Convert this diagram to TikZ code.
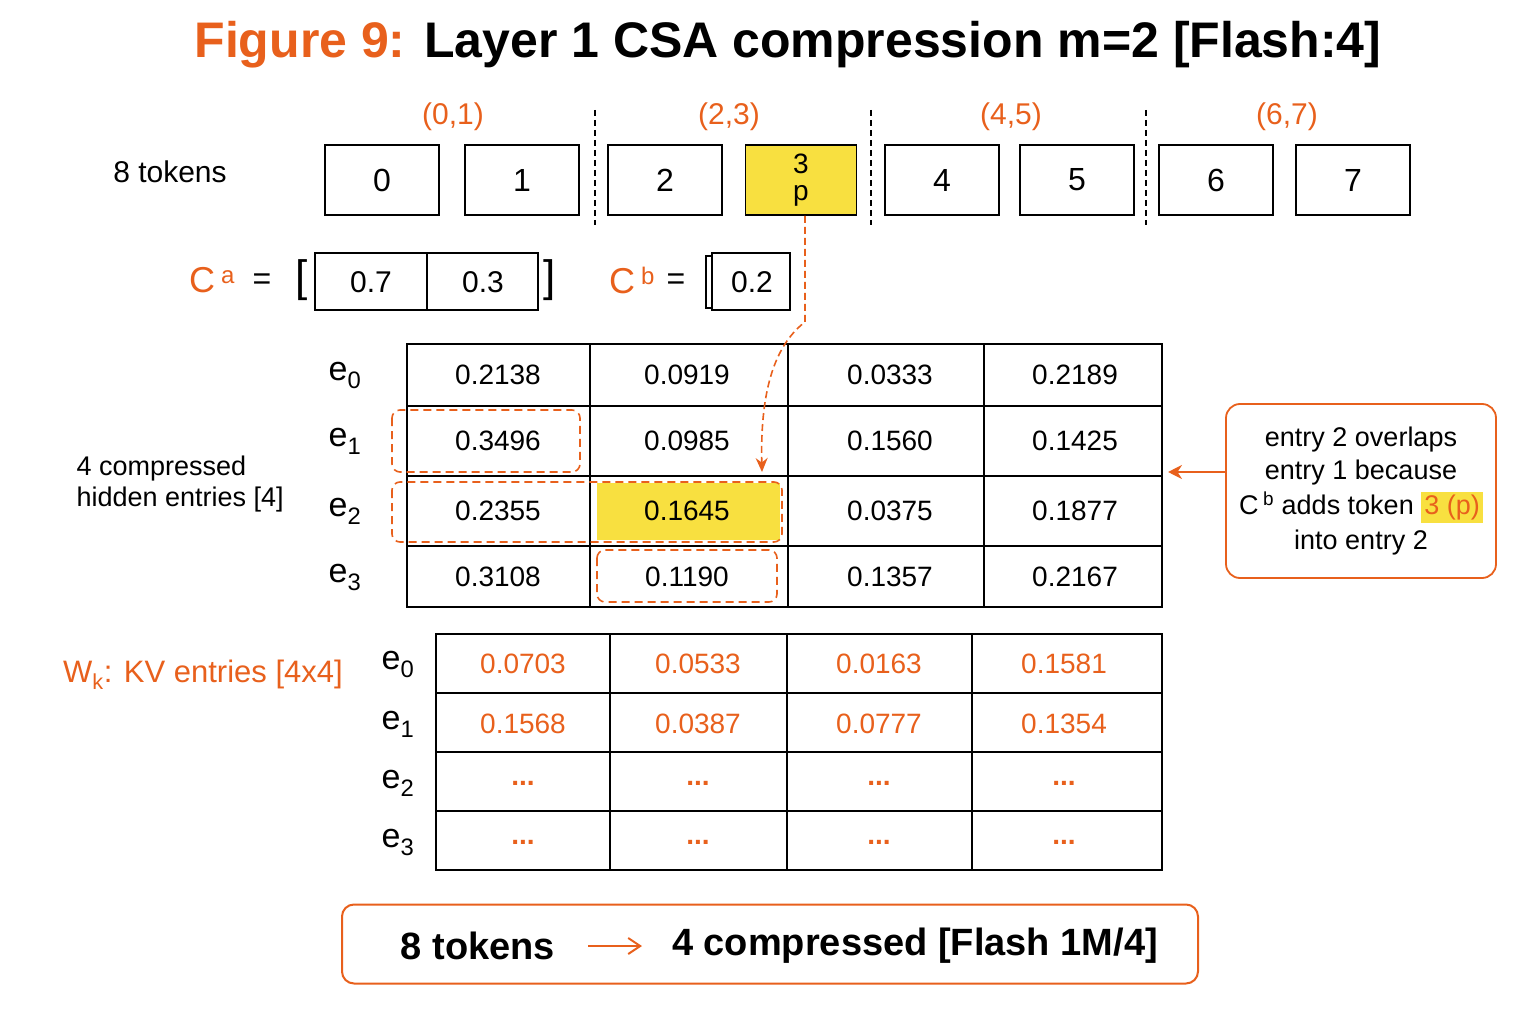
\documentclass[tikz,border=0pt]{standalone}
\usepackage{fontspec}
\setmainfont{Liberation Sans}
\usetikzlibrary{arrows.meta}
\definecolor{org}{HTML}{E8601C}
\definecolor{yel}{HTML}{F8E040}
\newcommand{\fs}[1]{\fontsize{#1}{#1}\selectfont}
\begin{document}
\begin{tikzpicture}[x=1pt,y=-1pt,
  tok/.style={draw,line width=1.6pt,minimum width=114pt,minimum height=70pt,font=\fs{32}},
  cell/.style={font=\fs{28}},
  oc/.style={font=\fs{28},text=org},
  grp/.style={text=org,font=\fs{30}},
  dsh/.style={draw=org,dashed,line width=1.6pt,rounded corners=8pt,dash pattern=on 8pt off 5pt},
  sep/.style={dashed,line width=1.4pt,dash pattern=on 6pt off 4pt}]
\useasboundingbox (0,0) rectangle (1536,1024);
\node[font=\fs{50}\bfseries] (title) at (788,45) {\textcolor{org}{Figure 9:} Layer 1 CSA compression m=2 [Flash:4]};
% tokens
\foreach \n/\x in {0/382,1/522,2/665,4/942,5/1077,6/1216,7/1353}{\node[tok] (t\n) at (\x,180) {\n};}
\node[tok,fill=yel,minimum width=111pt,align=center,font=\fs{28},inner sep=0pt] (t3) at (801,180) {3\\[-1pt]p};
\foreach \l/\x in {{(0,1)}/453,{(2,3)}/729,{(4,5)}/1011,{(6,7)}/1287}{\node[grp] at (\x,117) {\l};}
\foreach \x in {595,871,1146}{\draw[sep] (\x,110) -- (\x,225);}
\node[font=\fs{30}] (eight) at (170,172) {8 tokens};
% Ca Cb
\node[font=\fs{36},text=org] (ca) at (212,280) {C\,\textsuperscript{\fs{24}a}};
\node[font=\fs{32}] at (262,282) {=};
\node[font=\fs{44}] at (302,280) {[};
\node[font=\fs{44}] at (550,280) {]};
\draw[line width=1.6pt] (315,253) rectangle (538,310) (427,253) -- (427,310);
\node[font=\fs{30}] (c07) at (371,282) {0.7};
\node[font=\fs{30}] (c03) at (483,282) {0.3};
\node[font=\fs{36},text=org] (cb) at (632,280) {C\,\textsuperscript{\fs{24}b}};
\node[font=\fs{32}] at (676,282) {=};
\draw[line width=1.6pt] (706,256) rectangle (712,308);
\draw[line width=1.6pt] (712,253) rectangle (790,310);
\node[font=\fs{30}] (c02) at (752,282) {0.2};
% table 1
\draw[line width=1.6pt] (407,344) rectangle (1162,607);
\foreach \x in {590,788,984}{\draw[line width=1.3pt] (\x,344)--(\x,607);}
\foreach \y in {406,476,546}{\draw[line width=1.3pt] (407,\y)--(1162,\y);}
\fill[yel] (597,483) rectangle (780,540);
\draw[dsh] (392,410) rectangle (580,472);
\draw[dsh] (392,482) rectangle (782,542);
\draw[dsh] (597,550) rectangle (777,602);
\foreach \r/\y/\a/\b/\c/\d in {0/375/0.2138/0.0919/0.0333/0.2189,1/441/0.3496/0.0985/0.1560/0.1425,2/511/0.2355/0.1645/0.0375/0.1877,3/577/0.3108/0.1190/0.1357/0.2167}{
  \node[font=\fs{34}] (e\r) at (345,\y) {e\textsubscript{\r}};
  \node[cell] (a\r) at (498,\y) {\a};
  \node[cell] (b\r) at (687,\y) {\b};
  \node[cell] (cc\r) at (890,\y) {\c};
  \node[cell] (d\r) at (1075,\y) {\d};
}
\node[font=\fs{27},align=left,anchor=west] (hid) at (73,484) {4 compressed\\[4pt]hidden entries [4]};
% dashed arrow
\coordinate (bend) at (805,322);
\draw[org,line width=1.6pt,dash pattern=on 7pt off 4pt,-{Stealth[length=14pt,width=12pt]}] (t3.south -| 805,0) -- (bend) .. controls (775,345) and (760,390) .. (762,472);
% note
\node[draw=org,line width=1.8pt,rounded corners=14pt,minimum width=270pt,minimum height=174pt] (note) at (1361,491) {};
\node[font=\fs{27},align=center] (notet) at (1361,491) {entry 2 overlaps\\[6pt]entry 1 because\\[6pt]C\,\textsuperscript{b} adds token \colorbox{yel}{\textcolor{org}{3 (p)}}\\[6pt]into entry 2};
\coordinate (tabR) at (1168,472);
\draw[org,line width=1.8pt,-{Stealth[length=14pt,width=14pt]}] (note.west |- tabR) -- (tabR);
% table 2
\draw[line width=1.6pt] (436,634) rectangle (1162,870);
\foreach \x in {610,787,972}{\draw[line width=1.3pt] (\x,634)--(\x,870);}
\foreach \y in {693,752,811}{\draw[line width=1.3pt] (436,\y)--(1162,\y);}
\foreach \r/\y/\a/\b/\c/\d in {0/664/0.0703/0.0533/0.0163/0.1581,1/724/0.1568/0.0387/0.0777/0.1354,2/783/\textbf{...}/\textbf{...}/\textbf{...}/\textbf{...},3/842/\textbf{...}/\textbf{...}/\textbf{...}/\textbf{...}}{
  \node[font=\fs{34}] (f\r) at (398,\y) {e\textsubscript{\r}};
  \node[oc] (g\r) at (523,\y) {\a};
  \node[oc] (h\r) at (698,\y) {\b};
  \node[oc] (i\r) at (879,\y) {\c};
  \node[oc] (j\r) at (1064,\y) {\d};
}
\node[font=\fs{31},text=org] (wk) at (203,675) {W\textsubscript{k}: KV entries [4x4]};
% bottom
\node[draw=org,line width=2pt,rounded corners=12pt,minimum width=856pt,minimum height=79pt] (bot) at (770,944) {};
\node[font=\fs{38}\bfseries] (b8) at (478,946) {8 tokens};
\node[font=\fs{38}\bfseries] (b4) at (915,946) {4 compressed [Flash 1M/4]};
\draw[org,line width=2pt,-{Straight Barb[length=12pt,width=16pt]}] (588,946) -- (642,946);
\end{tikzpicture}
\end{document}
